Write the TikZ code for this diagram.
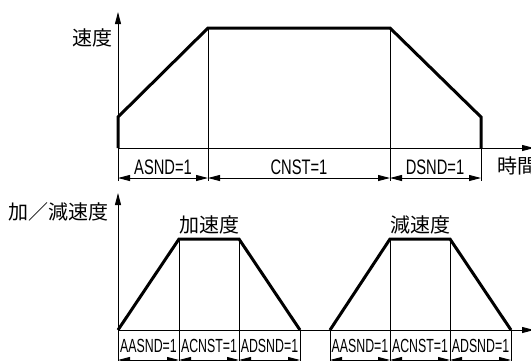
\documentclass[tikz,border=0pt]{standalone}
\usepackage{fontspec}
\setmainfont{Liberation Sans}
\newfontfamily\jp{Noto Sans CJK JP}
\newfontfamily\narrowA[FakeStretch=0.70]{Liberation Sans}
\newfontfamily\narrowB[FakeStretch=0.65]{Liberation Sans}
\usetikzlibrary{arrows.meta}
\begin{document}
\begin{tikzpicture}[x=1pt,y=-1pt,
  prof/.style={line width=3pt, line join=miter},
  thinline/.style={line width=0.9pt},
  axisline/.style={line width=0.9pt, -{Triangle[length=12pt,width=6pt]}},
  dimline/.style={line width=0.9pt, {Triangle[length=12pt,width=6pt]}-{Triangle[length=12pt,width=6pt]}},
  jlab/.style={font=\jp\fontsize{20}{20}\selectfont, inner sep=0},
  tlab/.style={font=\narrowA\fontsize{21}{21}\selectfont, inner sep=0},
  blab/.style={font=\narrowB\fontsize{19}{19}\selectfont, inner sep=0},
]
\useasboundingbox (0,0) rectangle (531,360);
\clip (0,0) rectangle (531,360);

% ---------- top chart: velocity ----------
\coordinate (o1) at (118,148);
\coordinate (ytop1) at (118,12);
\coordinate (ybot1) at (118,181);
\coordinate (xend1) at (534,148);
\coordinate (p1) at (118,117);
\coordinate (p2) at (208,28);
\coordinate (p3) at (390,28);
\coordinate (p4) at (481,117);
\coordinate (p5) at (481,148);
\coordinate (e2) at (208,181);
\coordinate (e3) at (390,181);
\coordinate (e4) at (481,181);
\coordinate (d0) at (118,178);
\coordinate (d1) at (208,178);
\coordinate (d2) at (390,178);
\coordinate (d3) at (481,178);

\draw[axisline] (ybot1) -- (ytop1);
\draw[axisline] (o1) -- (xend1);
\draw[thinline] (p2) -- (e2);
\draw[thinline] (p3) -- (e3);
\draw[thinline] (p4) -- (e4);
\draw[prof] (o1) -- (p1) -- (p2) -- (p3) -- (p4) -- (p5);
\draw[dimline] (d0) -- (d1);
\draw[dimline] (d1) -- (d2);
\draw[dimline] (d2) -- (d3);

\node[jlab] (vlab) at (92,38) {速度};
\node[jlab, anchor=west] (tlabel) at (497,166) {時間};
\node[tlab] (asnd) at (163,167) {ASND=1};
\node[tlab] (cnst) at (299,167) {CNST=1};
\node[tlab] (dsnd) at (435,167) {DSND=1};

% ---------- bottom chart: acceleration ----------
\coordinate (o2) at (118,330);
\coordinate (ytop2) at (118,193);
\coordinate (ybot2) at (118,362);
\coordinate (xend2) at (534,330);
\coordinate (a1) at (179,239);
\coordinate (a2) at (239,239);
\coordinate (a3) at (300,330);
\coordinate (b0) at (330,330);
\coordinate (b1) at (390,239);
\coordinate (b2) at (450,239);
\coordinate (b3) at (511,330);
\coordinate (fa1) at (179,362);
\coordinate (fa2) at (239,362);
\coordinate (fa3) at (300,362);
\coordinate (fb0) at (330,362);
\coordinate (fb1) at (390,362);
\coordinate (fb2) at (450,362);
\coordinate (fb3) at (511,362);
\coordinate (g0) at (118,360);
\coordinate (g1) at (179,360);
\coordinate (g2) at (239,360);
\coordinate (g3) at (300,360);
\coordinate (h0) at (330,360);
\coordinate (h1) at (390,360);
\coordinate (h2) at (450,360);
\coordinate (h3) at (511,360);

\draw[axisline] (ybot2) -- (ytop2);
\draw[axisline] (o2) -- (xend2);
\draw[thinline] (a1) -- (fa1);
\draw[thinline] (a2) -- (fa2);
\draw[thinline] (a3) -- (fa3);
\draw[thinline] (b0) -- (fb0);
\draw[thinline] (b1) -- (fb1);
\draw[thinline] (b2) -- (fb2);
\draw[thinline] (b3) -- (fb3);
\draw[prof] (o2) -- (a1) -- (a2) -- (a3);
\draw[prof] (b0) -- (b1) -- (b2) -- (b3);
\draw[dimline] (g0) -- (g1);
\draw[dimline] (g1) -- (g2);
\draw[dimline] (g2) -- (g3);
\draw[dimline] (h0) -- (h1);
\draw[dimline] (h1) -- (h2);
\draw[dimline] (h2) -- (h3);

\node[jlab] (alab) at (59,212) {加／減速度};
\node[jlab] (acc) at (209,225) {加速度};
\node[jlab] (dec) at (420,225) {減速度};
\node[blab] (aasnd1) at (148.5,346) {AASND=1};
\node[blab] (acnst1) at (209,346) {ACNST=1};
\node[blab] (adsnd1) at (269.5,346) {ADSND=1};
\node[blab] (aasnd2) at (360,346) {AASND=1};
\node[blab] (acnst2) at (420,346) {ACNST=1};
\node[blab] (adsnd2) at (480.5,346) {ADSND=1};
\end{tikzpicture}
\end{document}
